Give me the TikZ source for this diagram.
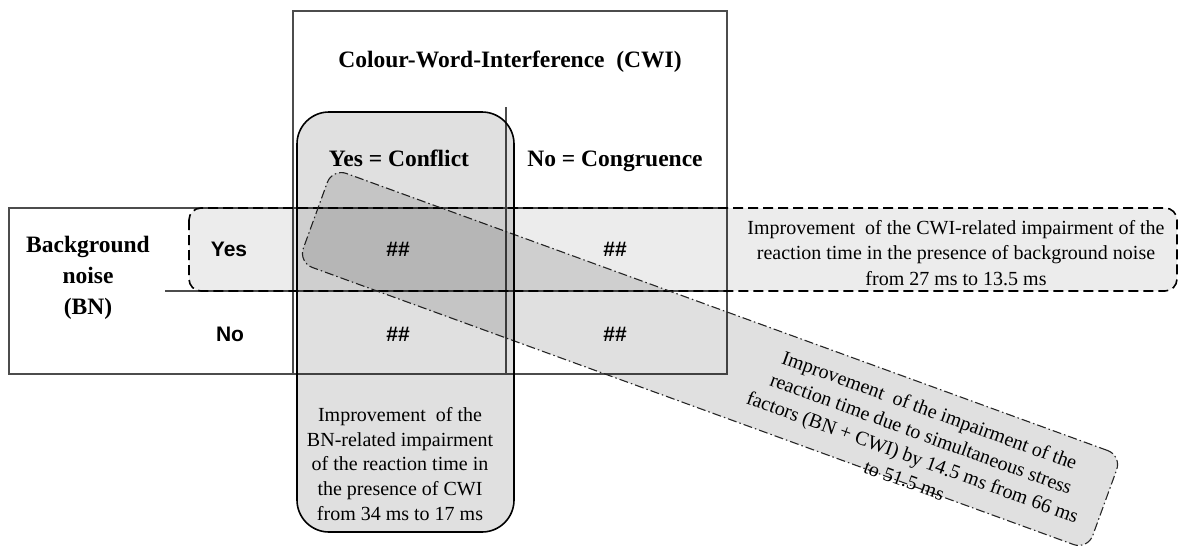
\documentclass[tikz,border=0pt]{standalone}
\usepackage{fontspec}
\setmainfont{Liberation Serif}
\newfontfamily\arialfont{Liberation Sans}
\tikzset{
  gridline/.style={draw=black!70, line width=1.4pt},
  bodytext/.style={font=\fontsize{20}{24.8}\selectfont, align=center, inner sep=0pt},
  headtext/.style={font=\fontsize{23.5}{31}\selectfont\bfseries, inner sep=0pt},
  rowlabel/.style={font=\arialfont\fontsize{21}{25}\selectfont\bfseries, inner sep=0pt, anchor=base},
  cellmark/.style={font=\arialfont\fontsize{21}{25}\selectfont\bfseries, inner sep=0pt, anchor=base},
  rowbox/.style={draw=black, line width=1.6pt, dash pattern=on 10pt off 5pt, fill=black, fill opacity=0.075, rounded corners=12pt},
  colbox/.style={draw=black, line width=1.6pt, fill=black, fill opacity=0.12, rounded corners=32pt},
  jointbox/.style={draw=black!85, line width=1.1pt, dash pattern=on 9pt off 3pt on 1.5pt off 3pt, fill=black, fill opacity=0.12, rounded corners=15pt, minimum width=840pt, minimum height=100pt, inner sep=0pt, text opacity=1}
}
\begin{document}
\begin{tikzpicture}[x=1pt,y=-1pt]
\useasboundingbox (0,0) rectangle (1182,554);
% table lines
\draw[gridline] (293,374) -- (293,11) -- (727,11) -- (727,374);
\draw[gridline] (9,208) rectangle (727,374);
\draw[gridline] (165,291) -- (727,291);
\draw[gridline] (506,107) -- (506,374);
% highlight boxes
\draw[rowbox] (189,208) rectangle (1177,291);
\node[jointbox, rotate=-20] (joint) at (710,359) {};
\draw[colbox] (297,112) rectangle (514,532);
% texts
\node[headtext, anchor=base] (cwi) at (510,67) {Colour-Word-Interference\ \ (CWI)};
\node[headtext, anchor=base] (conflict) at (399,166) {Yes = Conflict};
\node[headtext, anchor=base] (congruence) at (615,166) {No = Congruence};
\node[headtext, align=center, font=\fontsize{23.5}{31}\selectfont\bfseries] (bn) at (88,278) {Background\\noise\\(BN)};
\node[rowlabel] (yes) at (229,256) {Yes};
\node[rowlabel] (no) at (230,341) {No};
\node[cellmark] (c11) at (398,256) {\#\#};
\node[cellmark] (c12) at (615,256) {\#\#};
\node[cellmark] (c21) at (398,341) {\#\#};
\node[cellmark] (c22) at (615,341) {\#\#};
\node[bodytext, font=\fontsize{20}{25.5}\selectfont] (rowtext) at (956,253) {Improvement\ \ of the CWI-related impairment of the\\reaction time in the presence of background noise\\from 27 ms to 13.5 ms};
\node[bodytext] (coltext) at (400,464) {Improvement\ \ of the\\BN-related impairment\\of the reaction time in\\the presence of CWI\\from 34 ms to 17 ms};
\node[bodytext, rotate=-20] (jointtext) at (917,445) {Improvement\ \ of the impairment of the\\reaction time due to simultaneous stress\\factors (BN + CWI) by 14.5 ms from 66 ms\\to 51.5 ms};
\end{tikzpicture}
\end{document}
